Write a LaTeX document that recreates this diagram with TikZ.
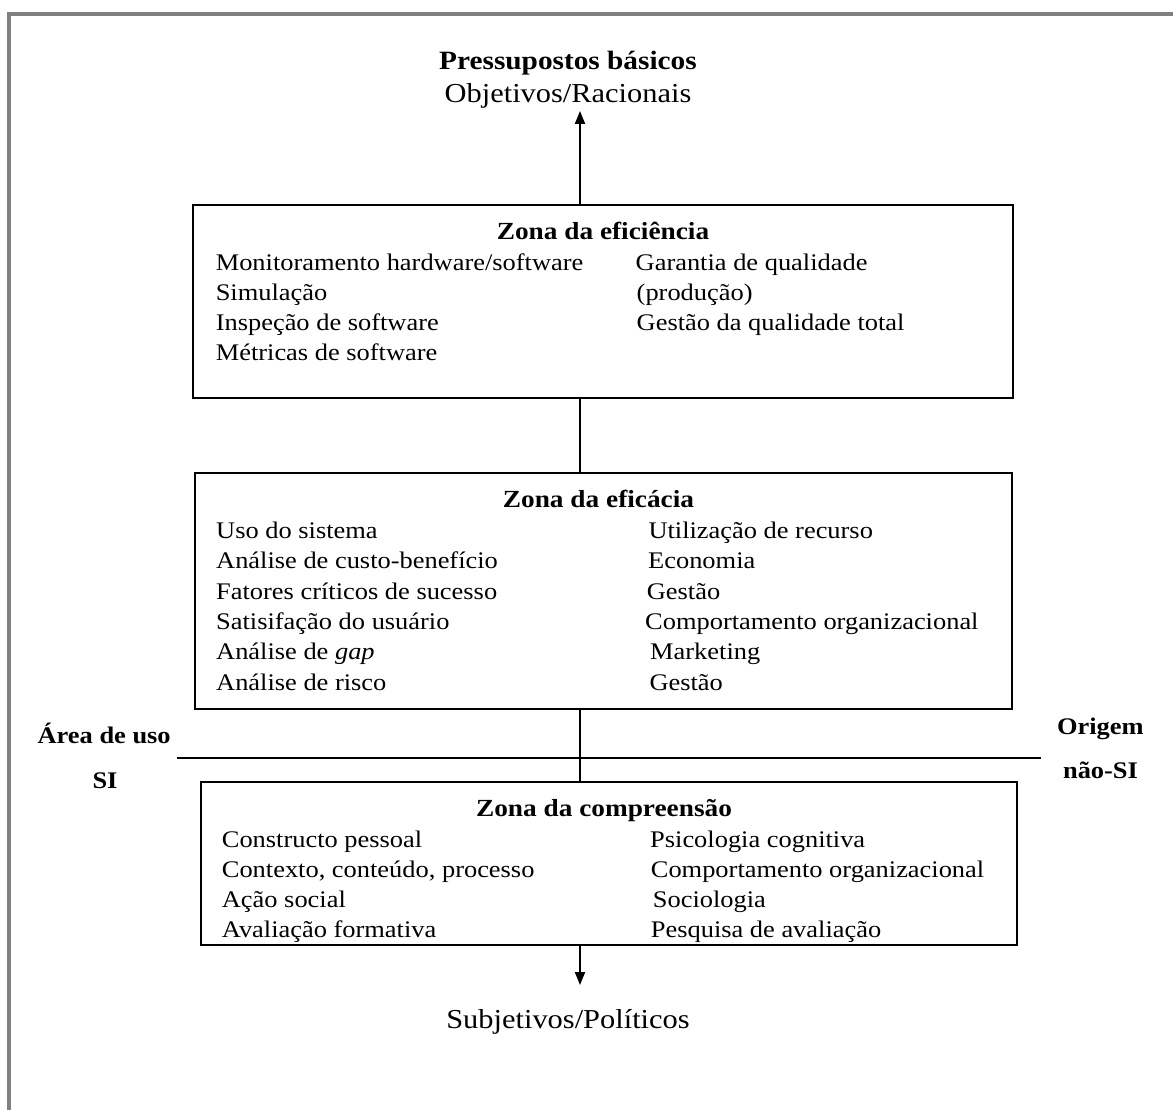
\documentclass[tikz,border=0pt]{standalone}
\usepackage{fontspec}
\setmainfont{Liberation Serif}[FakeStretch=1.11]
\usetikzlibrary{arrows.meta}
\begin{document}
\begin{tikzpicture}[x=1pt,y=-1pt,
  zone/.style={draw, line width=2pt, rectangle, inner sep=0pt},
  item/.style={anchor=base west, inner sep=0pt,
    font=\fontsize{23.8}{28}\selectfont},
  head/.style={anchor=base, inner sep=0pt,
    font=\fontsize{23.8}{28}\selectfont\bfseries},
  title/.style={anchor=base, inner sep=0pt,
    font=\fontsize{24.6}{28}\selectfont\bfseries},
  endhead/.style={anchor=base, inner sep=0pt,
    font=\fontsize{26.4}{30}\selectfont\bfseries},
  endlabel/.style={anchor=base, inner sep=0pt,
    font=\fontsize{27.4}{30}\selectfont},
  link/.style={line width=2pt},
  tip/.style={line width=2pt, -{Triangle[length=13pt,width=10pt]}}]
\useasboundingbox (0,0) rectangle (1173,1110);
% page frame (left and top edges)
\draw[line width=4pt, gray] (9,1110) -- (9,14) -- (1173,14);

% top label
\node[endhead] (top) at (568,70) {Pressupostos básicos};
\node[endlabel] (topsub) at (568,103) {Objetivos/Racionais};
\coordinate (toptip) at (580,111);

% zone boxes
\node[zone, minimum width=820pt, minimum height=193pt] (z1) at (603,301.5) {};
\node[zone, minimum width=816.4pt, minimum height=236.6pt] (z2) at (603.5,591) {};
\node[zone, minimum width=815.7pt, minimum height=163.3pt] (z3) at (608.85,863.35) {};

% connectors
\draw[tip] (z1.north -| toptip) -- (toptip);
\draw[link] (z1.south -| toptip) -- (z2.north -| toptip);
\draw[link] (z2.south -| toptip) -- (z3.north -| toptip);
\coordinate (bottip) at (580,985);
\draw[tip] (z3.south -| bottip) -- (bottip);

% dividing line
\coordinate (divl) at (177,757.7);
\coordinate (divr) at (1040.5,757.7);
\draw[link] (divl) -- (divr);

% side labels
\node[head] (areal1) at (104.2,743.3) {Área de uso};
\node[head] (areal2) at (105,788.3) {SI};
\node[head] (orig1) at (1100.3,734.3) {Origem};
\node[head] (orig2) at (1100.5,778.3) {não-SI};

% zone of efficiency
\node[title] (h1) at (603,239.5) {Zona da eficiência};
\node[item] at (215.6,270) {Monitoramento hardware/software};
\node[item] at (215.6,300.3) {Simulação};
\node[item] at (215.6,330.6) {Inspeção de software};
\node[item] at (215.6,360.9) {Métricas de software};
\node[item] at (635.5,270) {Garantia de qualidade};
\node[item] at (636.5,300.3) {(produção)};
\node[item] at (636.5,330.6) {Gestão da qualidade total};

% zone of effectiveness
\node[title] (h2) at (598.5,507.7) {Zona da eficácia};
\node[item] at (216,538.5) {Uso do sistema};
\node[item] at (216,568.8) {Análise de custo-benefício};
\node[item] at (216,599.1) {Fatores críticos de sucesso};
\node[item] at (216,629.4) {Satisifação do usuário};
\node[item] at (216,659.7) {Análise de \textit{gap}};
\node[item] at (216,690) {Análise de risco};
\node[item] at (648.3,538.5) {Utilização de recurso};
\node[item] at (648,568.8) {Economia};
\node[item] at (646.7,599.1) {Gestão};
\node[item] at (645,629.4) {Comportamento organizacional};
\node[item] at (650,659.7) {Marketing};
\node[item] at (649.3,690) {Gestão};

% zone of understanding
\node[title] (h3) at (604,816.7) {Zona da compreensão};
\node[item] at (221.7,847) {Constructo pessoal};
\node[item] at (221.7,877.3) {Contexto, conteúdo, processo};
\node[item] at (221.7,907.6) {Ação social};
\node[item] at (221.7,937.9) {Avaliação formativa};
\node[item] at (650,847) {Psicologia cognitiva};
\node[item] at (650.7,877.3) {Comportamento organizacional};
\node[item] at (652.7,907.6) {Sociologia};
\node[item] at (650.7,937.9) {Pesquisa de avaliação};

% bottom label
\node[endlabel] (bot) at (568,1028) {Subjetivos/Políticos};
\end{tikzpicture}
\end{document}
